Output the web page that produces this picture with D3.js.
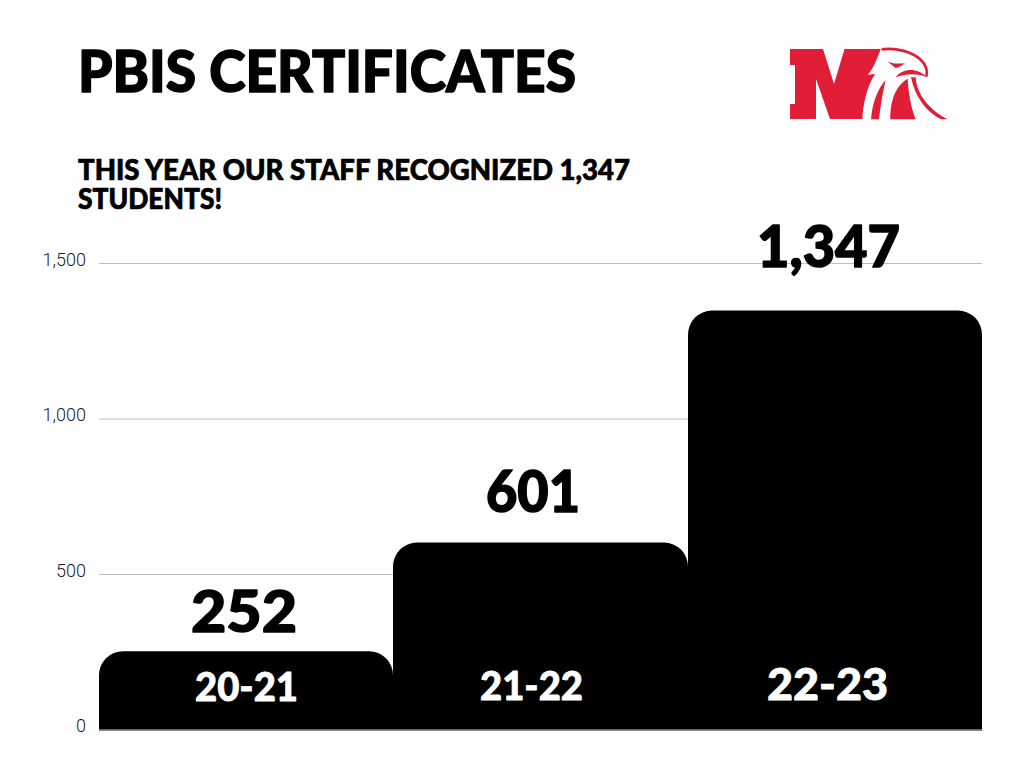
<!DOCTYPE html>
<html lang="en">
<head>
<meta charset="UTF-8">
<title>PBIS Certificates</title>
<script src="https://d3js.org/d3.v7.min.js"></script>
<style>
  html, body { margin: 0; background: #fff; }
  svg { display: block; }
  text { font-family: "Lato", sans-serif; stroke-linejoin: round; }
</style>
</head>
<body>
<div id="chart"></div>
<script>
const years = ["20-21", "21-22", "22-23"];
const certificates = [252, 601, 1347];
const yTicks = [0, 500, 1000, 1500];
const subtitleLines = ["THIS YEAR OUR STAFF RECOGNIZED 1,347", "STUDENTS!"];

const width = 1024, height = 768;
const svg = d3.select("#chart").append("svg")
  .attr("width", width).attr("height", height);

const x = d3.scaleBand().domain(years).range([99, 982]).padding(0);
const y = d3.scaleLinear().domain([0, 1500]).range([729.5, 263]);

// title and subtitle
svg.append("text")
  .attr("x", 78).attr("y", 92)
  .attr("font-size", 58).attr("font-weight", 900)
  .attr("stroke", "#000").attr("stroke-width", 1.5)
  .attr("textLength", 498).attr("lengthAdjust", "spacingAndGlyphs")
  .text("PBIS CERTIFICATES");

// one text element, the two lines sit closer than the font's line height
const subLengths = [552, 144];
svg.append("text")
  .attr("font-size", 28).attr("font-weight", 900)
  .attr("stroke", "#000").attr("stroke-width", 0.7)
  .selectAll("tspan").data(subtitleLines).join("tspan")
  .attr("x", 78).attr("y", (d, i) => 180 + i * 29)
  .attr("textLength", (d, i) => subLengths[i]).attr("lengthAdjust", "spacingAndGlyphs")
  .text(d => d);

// gridlines + tick labels
const yAxis = d3.axisLeft(y).tickValues(yTicks).tickSize(-(982 - 99)).tickFormat(d3.format(","));
const gy = svg.append("g").attr("transform", "translate(99,0)").call(yAxis);
gy.select(".domain").remove();
gy.selectAll(".tick line").attr("stroke", "#bdbdbd").attr("stroke-width", 1);
gy.selectAll(".tick text")
  .attr("x", -13).attr("y", 2).attr("dy", 0)
  .attr("font-size", 18).attr("font-weight", 300)
  .attr("fill", "#222").style("font-family", "Roboto, sans-serif");

// bars with rounded top corners
const r = 24;
function barPath(d, i) {
  const x0 = Math.round(x(years[i])), x1 = Math.round(x(years[i]) + x.bandwidth());
  const top = y(d), base = y(0);
  return `M${x0},${base}V${top + r}A${r},${r} 0 0 1 ${x0 + r},${top}H${x1 - r}A${r},${r} 0 0 1 ${x1},${top + r}V${base}Z`;
}
svg.selectAll(".bar").data(certificates).join("path")
  .attr("class", "bar")
  .attr("d", barPath)
  .attr("fill", "#000");

// baseline
svg.append("line")
  .attr("x1", 99).attr("x2", 982).attr("y1", y(0) + 0.5).attr("y2", y(0) + 0.5)
  .attr("stroke", "#666").attr("stroke-width", 1.5);

// value labels, placed by hand in the original so gaps differ
const valGap = [19, 31, 44];
const valCentre = [244, 533, 828.5];
const valLength = [106, 94, 143];
svg.selectAll(".val").data(certificates).join("text")
  .attr("class", "val")
  .attr("x", (d, i) => valCentre[i] - valLength[i] / 2)
  .attr("y", (d, i) => y(d) - valGap[i])
  .attr("font-size", 58).attr("font-weight", 900)
  .attr("stroke", "#000").attr("stroke-width", 1.5)
  .attr("textLength", (d, i) => valLength[i]).attr("lengthAdjust", "spacingAndGlyphs")
  .text(d => d3.format(",")(d));

// category labels inside bars
const catBase = [701, 700, 700];
const catSize = [39, 39, 43];
const catLeft = [195, 480, 767];
const catLength = [103, 103, 121];
svg.selectAll(".cat").data(years).join("text")
  .attr("class", "cat")
  .attr("x", (d, i) => catLeft[i])
  .attr("y", (d, i) => catBase[i])
  .attr("fill", "#fff").attr("stroke", "#fff").attr("stroke-width", 0.8)
  .attr("font-size", (d, i) => catSize[i]).attr("font-weight", 900)
  .attr("textLength", (d, i) => catLength[i]).attr("lengthAdjust", "spacingAndGlyphs")
  .text(d => d);

// logo, traced by hand
const red = "#e21d38";
svg.append("path").attr("fill", red)
  .attr("d", "M790,49H823L834,84L844.5,49H882V119H830L816,79V119H790V104H795V65H790Z");
const eagle = svg.append("g").attr("transform", "translate(865,44) scale(0.3333)");
// white head and feathers
eagle.append("path").attr("fill", "#fff")
  .attr("d", "M48,14C95,8 145,22 170,45C188,62 192,80 185,100C170,84 145,80 120,88C100,95 90,105 85,120C76,155 72,190 72,226H-8C-6,180 5,130 30,90L8,92C25,75 35,45 48,14Z");
// head outline
eagle.append("path").attr("fill", "none").attr("stroke", red).attr("stroke-width", 8)
  .attr("d", "M50,16C95,10 142,24 167,47C184,63 189,80 184,98");
// eye
eagle.append("path").attr("fill", red).attr("d", "M68,52C85,62 100,58 120,58C110,66 100,72 92,72C85,66 75,60 68,52Z");
// brow crescent over the body
eagle.append("path").attr("fill", red)
  .attr("d", "M92,100C115,72 155,70 186,100C160,88 125,88 92,100Z");
// feather stripe on the left
eagle.append("path").attr("fill", red)
  .attr("d", "M18,226C22,175 38,135 62,108C52,150 46,190 42,226Z");
// main body
eagle.append("path").attr("fill", red)
  .attr("d", "M76,226C76,175 88,128 128,104C130,145 138,190 152,226Z");
// tapered stripe to the lower right
eagle.append("path").attr("fill", red)
  .attr("d", "M138,100L152,100C155,150 190,195 247,226H228C185,205 150,160 138,100Z");
</script>
</body>
</html>
